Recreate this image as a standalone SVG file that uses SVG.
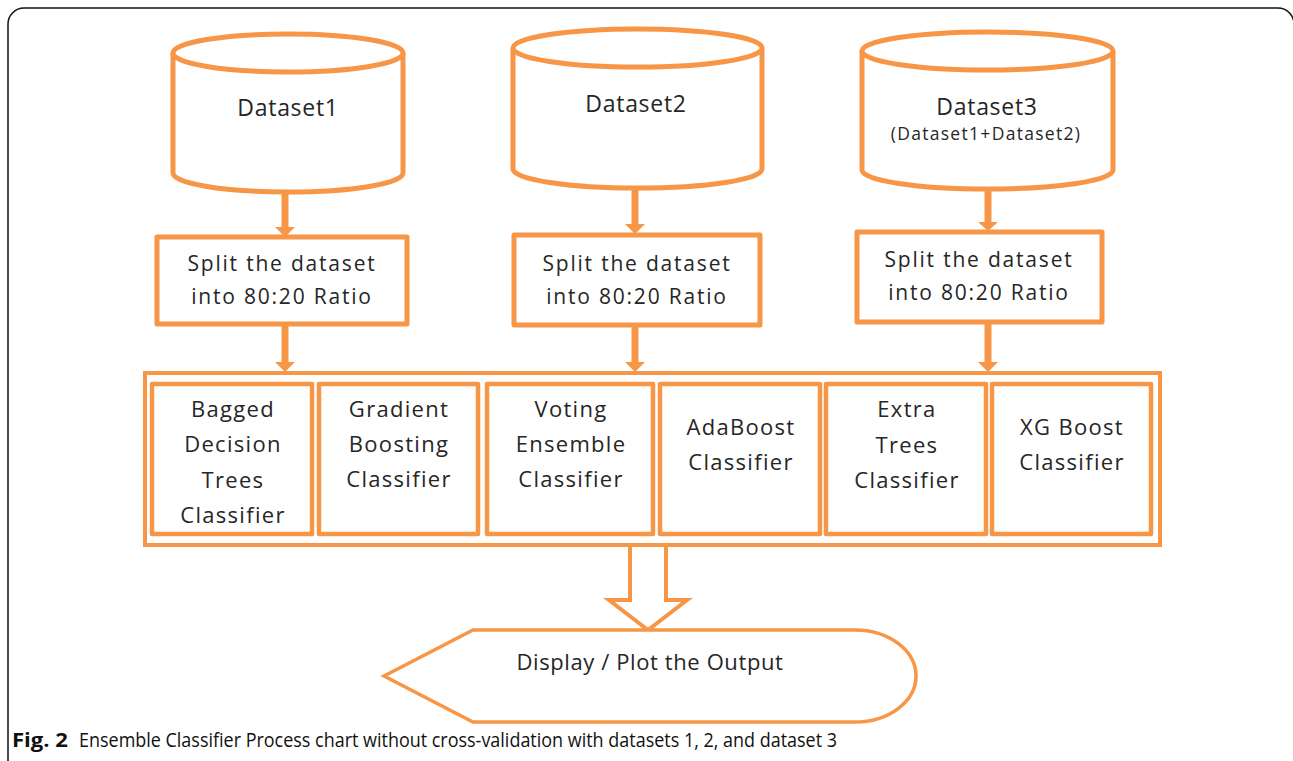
<svg xmlns="http://www.w3.org/2000/svg" width="1293" height="761" viewBox="0 0 1293 761">
<style>
.o{fill:#fff;stroke:#F79646;stroke-linejoin:round}
.cyl{stroke-width:5}
.box{stroke-width:5}
.cls{stroke-width:4.5}
.t{font-family:"Open Sans","Noto Sans",sans-serif;fill:#262626;text-anchor:middle}
.ds{font-size:23px;letter-spacing:0.7px}
.sp{font-size:21px;letter-spacing:1.8px}
.cl{font-size:22px;letter-spacing:1.3px}
.arr{stroke:#F79646;stroke-width:7;fill:none}
.head{fill:#F79646}
</style>
<rect width="1293" height="761" fill="#fff"/>
<path d="M8,761 V24 A16,16 0 0 1 24,8 H1278 A16,16 0 0 1 1294,24 V761" fill="none" stroke="#111" stroke-width="1.5"/>

<g id="connectors">
  <line class="arr" x1="285" y1="193" x2="285" y2="228"/>
  <polygon class="head" points="275,227 295,227 285,237"/>
  <line class="arr" x1="285" y1="324" x2="285" y2="363"/>
  <polygon class="head" points="275,362 295,362 285,372"/>
  <line class="arr" x1="635" y1="188" x2="635" y2="225"/>
  <polygon class="head" points="625,224 645,224 635,234"/>
  <line class="arr" x1="635" y1="325" x2="635" y2="363"/>
  <polygon class="head" points="625,362 645,362 635,372"/>
  <line class="arr" x1="988" y1="189" x2="988" y2="223"/>
  <polygon class="head" points="978,222 998,222 988,231"/>
  <line class="arr" x1="988" y1="322" x2="988" y2="363"/>
  <polygon class="head" points="978,362 998,362 988,372"/>
  <path d="M630,545 V600 H609 L648,630 L687,600 H666 V545" fill="#fff" stroke="#F79646" stroke-width="4" stroke-linejoin="miter"/>
</g>

<g id="dataset1">
  <path class="o cyl" d="M173,53 V173 A115,19 0 0 0 403,173 V53"/>
  <ellipse class="o cyl" cx="288" cy="53" rx="115" ry="19"/>
  <text class="t ds" x="288" y="116">Dataset1</text>
</g>
<g id="dataset2">
  <path class="o cyl" d="M513,48 V169 A124.5,19 0 0 0 762,169 V48"/>
  <ellipse class="o cyl" cx="637.5" cy="48" rx="124.5" ry="19"/>
  <text class="t ds" x="636" y="112">Dataset2</text>
</g>
<g id="dataset3">
  <path class="o cyl" d="M862,51 V170 A125.5,19 0 0 0 1113,170 V51"/>
  <ellipse class="o cyl" cx="987.5" cy="51" rx="125.5" ry="19"/>
  <text class="t ds" x="987" y="115">Dataset3</text>
  <text class="t" x="986" y="140" font-size="17.5" letter-spacing="1.3">(Dataset1+Dataset2)</text>
</g>

<g id="split1">
  <rect class="o box" x="157" y="237" width="250" height="87"/>
  <text class="t sp" x="282" y="271">Split the dataset</text>
  <text class="t sp" x="282" y="304">into 80:20 Ratio</text>
</g>
<g id="split2">
  <rect class="o box" x="514" y="235" width="246" height="90"/>
  <text class="t sp" x="637" y="271">Split the dataset</text>
  <text class="t sp" x="637" y="304">into 80:20 Ratio</text>
</g>
<g id="split3">
  <rect class="o box" x="857" y="232" width="245" height="90"/>
  <text class="t sp" x="979" y="267">Split the dataset</text>
  <text class="t sp" x="979" y="300">into 80:20 Ratio</text>
</g>

<g id="classifiers">
  <rect x="145" y="373" width="1015" height="172" fill="none" stroke="#F79646" stroke-width="4"/>
</g>
<g id="bagged">
  <rect class="o cls" x="152" y="384" width="160" height="150"/>
  <text class="t cl" x="233" y="417">Bagged</text>
  <text class="t cl" x="233" y="452">Decision</text>
  <text class="t cl" x="233" y="488">Trees</text>
  <text class="t cl" x="233" y="523">Classifier</text>
</g>
<g id="gradient">
  <rect class="o cls" x="319" y="384" width="159" height="150"/>
  <text class="t cl" x="399" y="417">Gradient</text>
  <text class="t cl" x="399" y="452">Boosting</text>
  <text class="t cl" x="399" y="487">Classifier</text>
</g>
<g id="voting">
  <rect class="o cls" x="487" y="384" width="166" height="150"/>
  <text class="t cl" x="571" y="417">Voting</text>
  <text class="t cl" x="571" y="452">Ensemble</text>
  <text class="t cl" x="571" y="487">Classifier</text>
</g>
<g id="adaboost">
  <rect class="o cls" x="660" y="384" width="160" height="150"/>
  <text class="t cl" x="741" y="435">AdaBoost</text>
  <text class="t cl" x="741" y="470">Classifier</text>
</g>
<g id="extratrees">
  <rect class="o cls" x="826" y="384" width="160" height="150"/>
  <text class="t cl" x="907" y="417">Extra</text>
  <text class="t cl" x="907" y="453">Trees</text>
  <text class="t cl" x="907" y="488">Classifier</text>
</g>
<g id="xgboost">
  <rect class="o cls" x="992" y="384" width="159" height="150"/>
  <text class="t cl" x="1072" y="435">XG Boost</text>
  <text class="t cl" x="1072" y="470">Classifier</text>
</g>

<g id="output">
  <path d="M384,676 L473,630 H855 A61,46 0 0 1 855,722 H473 Z" fill="#fff" stroke="#F79646" stroke-width="3.5" stroke-linejoin="miter"/>
  <text class="t" x="650" y="670" font-size="22" letter-spacing="0.6">Display / Plot the Output</text>
</g>

<g id="caption" font-family="'Open Sans','Noto Sans',sans-serif" font-size="20" fill="#111">
  <text x="12" y="747" font-weight="bold" textLength="56" lengthAdjust="spacingAndGlyphs">Fig. 2</text>
  <text x="79" y="747" textLength="758" lengthAdjust="spacingAndGlyphs">Ensemble Classifier Process chart without cross-validation with datasets 1, 2, and dataset 3</text>
</g>
</svg>
